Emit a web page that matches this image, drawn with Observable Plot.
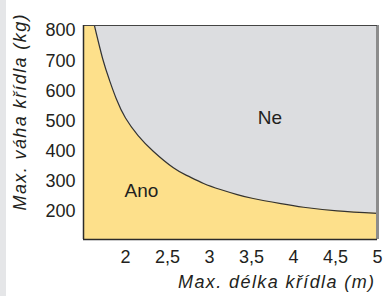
<!DOCTYPE html>
<html><head><meta charset="utf-8">
<script src="https://cdn.jsdelivr.net/npm/d3@7"></script>
<script src="https://cdn.jsdelivr.net/npm/@observablehq/plot@0.6"></script>
<style>
body{margin:0;background:#fff;}
</style></head><body><div id="chart"></div>
<script>
const wingLength = [1.63, 1.73, 1.81, 1.89, 2.0, 2.15, 2.33, 2.57, 2.74, 2.93, 3.13, 3.33, 3.52, 3.85, 4.12, 4.52, 5.0];
const maxWeight = [817, 705, 635, 574, 510, 452, 400, 345, 318, 293, 273, 256, 243, 226, 214, 202, 194];
const xTicks = [2, 2.5, 3, 3.5, 4, 4.5, 5];
const yTicks = [200, 300, 400, 500, 600, 700, 800];
const regionLabels = ["Ne", "Ano"];
const regionX = [3.72, 2.19];
const regionY = [510, 268];
const xDomain = [1.5, 5];
const yDomain = [107, 817];
const xTitle = "Max. délka křídla (m)";
const yTitle = "Max. váha křídla (kg)";

const curveData = wingLength.map((x, i) => ({x, w: maxWeight[i]}));
const labelData = regionLabels.map((t, i) => ({t, x: regionX[i], y: regionY[i]}));
const YELLOW = "#fde08b", GRAY = "#dcdde0";
const fmt = d => String(d).replace(".", ",");

const chart = Plot.plot({
  width: 384, height: 296,
  marginLeft: 83, marginRight: 7, marginTop: 25, marginBottom: 57,
  style: {fontFamily: "'Liberation Sans', Arial, sans-serif", fontSize: "18px", color: "#231f20",
          background: "linear-gradient(to right, #e5e6e8 6px, #ffffff 6px)"},
  x: {domain: xDomain},
  y: {domain: yDomain},
  marks: [
    Plot.frame({fill: YELLOW, stroke: "none"}),
    Plot.areaY(curveData, {x: "x", y1: "w", y2: yDomain[1], fill: GRAY, curve: "natural"}),
    Plot.lineY(curveData, {x: "x", y: "w", stroke: "#333", strokeWidth: 1.2, curve: "natural"}),
    Plot.ruleX([xDomain[1]], {stroke: "#8c8c8c", strokeWidth: 3}),
    Plot.ruleY([yDomain[1]], {stroke: "#444", strokeWidth: 1}),
    Plot.ruleX([xDomain[0]], {stroke: "#2b2b2b", strokeWidth: 1.5}),
    Plot.ruleY([yDomain[0]], {stroke: "#2b2b2b", strokeWidth: 1.5}),
    Plot.axisX({ticks: xTicks, tickSize: 0, tickPadding: 11, tickFormat: fmt, label: null}),
    Plot.axisY({ticks: yTicks, tickSize: 0, tickPadding: 8, label: null}),
    Plot.text(labelData, {x: "x", y: "y", text: "t", fontSize: 19, fill: "#231f20"}),
    Plot.text([xTitle], {text: d => d, frameAnchor: "bottom-right", dx: -2, dy: 48, textAnchor: "end", fontStyle: "italic", fontSize: 18, fill: "#231f20"}),
    Plot.text([yTitle], {text: d => d, frameAnchor: "bottom-left", dx: -58, dy: -29, rotate: -90, textAnchor: "start", fontStyle: "italic", fontSize: 18, fill: "#231f20"})
  ]
});
d3.select(chart).selectAll("text").filter(function() { return this.textContent === xTitle || this.textContent === yTitle; })
  .style("letter-spacing", "1.4px");
document.getElementById("chart").appendChild(chart);
</script></body></html>
